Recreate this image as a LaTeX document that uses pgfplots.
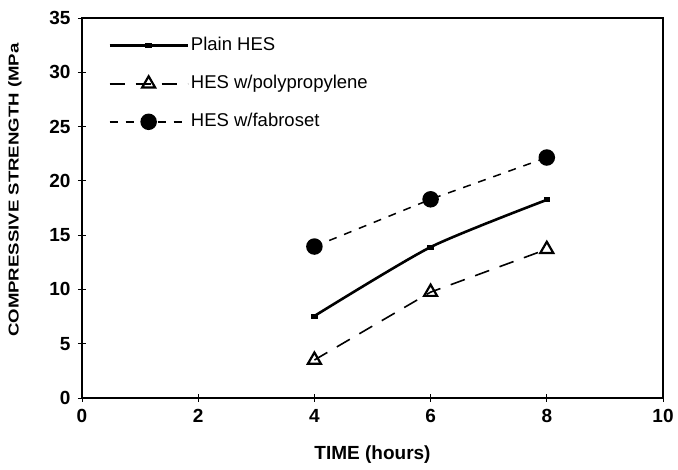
\documentclass[border=0pt]{standalone}
\usepackage{pgfplots}
\pgfplotsset{compat=1.18}
\usepackage{fontspec}
\setmainfont{Liberation Sans}
\begin{document}
\begin{tikzpicture}
\path[use as bounding box] (-82pt,-72pt) rectangle (596pt,398pt);
\begin{axis}[
  scale only axis,
  width=581pt, height=380pt,
  xmin=0, xmax=10, ymin=0, ymax=35,
  xtick={0,2,...,10}, ytick={0,5,...,35},
  tick pos=left,
  tick align=center,
  major tick length=8pt,
  tick style={black, line width=0.8pt},
  axis line style={line width=2.5pt},
  /pgf/number format/assume math mode=true,
  tick label style={font=\bfseries\fontsize{19}{22}\selectfont},
  xticklabel style={yshift=-4pt},
  yticklabel style={xshift=-4pt},
  xlabel={\bfseries\fontsize{19}{22}\selectfont TIME (hours)},
  xlabel style={at={(axis description cs:0.5,-0.163)}, anchor=base},
  ylabel={\scalebox{1}[0.77]{\bfseries\fontsize{18.6}{22}\selectfont COMPRESSIVE STRENGTH (MPa}},
  ylabel style={at={(axis description cs:-0.1153,0.547)}, anchor=center},
  legend style={at={(axis description cs:0.045,0.955)}, anchor=north west,
    draw=none, fill=none, inner sep=0pt, row sep=17pt,
    font=\fontsize{18.5}{22}\selectfont,
    nodes={inner sep=2pt, text height=13pt, text depth=4pt}},
  legend cell align=left,
  legend image code/.code={\draw[mark repeat=2,mark phase=2,#1] plot coordinates {(0pt,0pt) (39pt,0pt) (78pt,0pt)};},
]
\addplot[black, line width=2.6pt, smooth, tension=0.4, mark=square*, mark size=2pt, mark options={solid, yscale=0.6}]
  coordinates {(4,7.55) (6,13.9) (8,18.25)};
\addlegendentry{Plain HES}
\addplot[black, line width=1.6pt, dash pattern=on 15pt off 11pt, mark=triangle, mark size=7.5pt, mark options={solid, line width=2.2pt, fill=white}]
  coordinates {(4,3.5) (6,9.75) (8,13.7)};
\addlegendentry{HES w/polypropylene}
\addplot[black, line width=1.5pt, dash pattern=on 8pt off 8pt, mark=*, mark size=7.5pt, mark options={solid}]
  coordinates {(4,13.95) (6,18.3) (8,22.15)};
\addlegendentry{HES w/fabroset}
\end{axis}
\end{tikzpicture}
\end{document}
